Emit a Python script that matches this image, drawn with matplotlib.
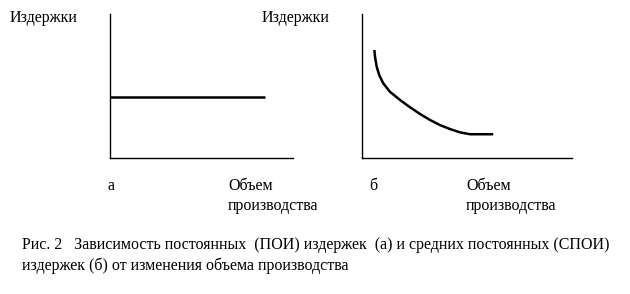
import matplotlib.pyplot as plt

# left panel: fixed costs (constant level)
fixed_x = [0, 84.7]
fixed_y = [42.4, 42.4]

# right panel: average fixed costs (falling curve)
avg_x = [5.9, 6.2, 7.0, 8.2, 10.1, 13.3, 18.1, 22.9, 27.6, 32.4, 37.1, 41.9, 46.7, 51.4, 62.5]
avg_y = [75.0, 70.3, 63.4, 57.6, 51.9, 46.0, 40.3, 35.2, 30.6, 26.4, 22.9, 20.1, 17.8, 16.5, 16.5]

y_label = 'Издержки'
x_label = ['Объем', 'производства']
panel_tags = ['а', 'б']
caption = ['Рис. 2   Зависимость постоянных  (ПОИ) издержек  (а) и средних постоянных (СПОИ)',
           'издержек (б) от изменения объема производства']

plt.rcParams['font.family'] = ['Liberation Serif', 'DejaVu Serif']

fig = plt.figure(figsize=(6.3, 2.94), dpi=100)
W, H = 630, 294


def make_axes(x0, x1, y_top, y_bot):
    ax = fig.add_axes([x0 / W, 1 - y_bot / H, (x1 - x0) / W, (y_bot - y_top) / H])
    ax.set_xlim(0, 100)
    ax.set_ylim(0, 100)
    for s in ['top', 'right']:
        ax.spines[s].set_visible(False)
    for s in ['left', 'bottom']:
        ax.spines[s].set_linewidth(1.0)
    ax.set_xticks([])
    ax.set_yticks([])
    ax.patch.set_alpha(0)
    return ax


ax1 = make_axes(110, 293, 14, 158)
ax1.plot(fixed_x, fixed_y, color='black', lw=1.8, solid_capstyle='butt', clip_on=False)

ax2 = make_axes(362, 572, 14, 158)
ax2.plot(avg_x, avg_y, color='black', lw=1.8, solid_capstyle='butt',
         solid_joinstyle='round', clip_on=False)

fs = 11.5


def put(px, py, s):
    fig.text(px / W, 1 - py / H, s, fontsize=fs, va='center', ha='left')


put(10, 18, y_label)
put(262, 18, y_label)

put(107, 186, panel_tags[0])
put(369, 186, panel_tags[1])

for x0 in [228, 466]:
    put(x0, 186, x_label[0])
    put(x0, 206, x_label[1])

put(22, 245, caption[0])
put(22, 266, caption[1])

fig.savefig('out.png', dpi=100)
